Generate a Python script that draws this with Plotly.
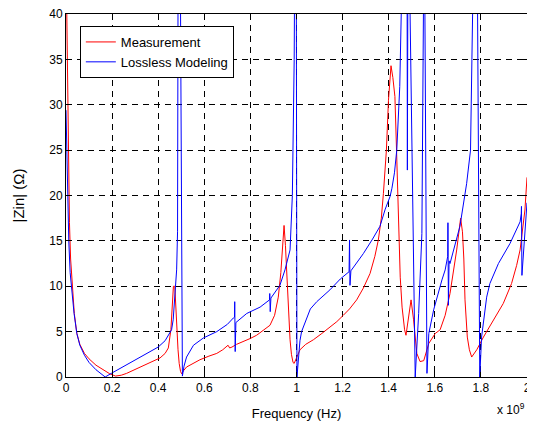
import plotly.graph_objects as go

# frequency in units of 1e9 Hz, |Zin| in ohms (values above 40 are clipped by the axis)
meas_f = [0.001, 0.006, 0.010, 0.015, 0.020, 0.027, 0.036, 0.047, 0.06, 0.08, 0.10, 0.13, 0.16, 0.19,
          0.215, 0.24, 0.263, 0.30, 0.335, 0.37, 0.408, 0.43, 0.444, 0.455, 0.462, 0.466, 0.472, 0.476,
          0.48, 0.486, 0.491, 0.497, 0.502, 0.51, 0.523, 0.55, 0.581, 0.62, 0.654, 0.68, 0.697, 0.703,
          0.71, 0.72, 0.74, 0.769, 0.80, 0.827, 0.86, 0.885, 0.905, 0.921, 0.932, 0.94, 0.946, 0.952,
          0.96, 0.966, 0.972, 0.978, 0.985, 0.99, 0.997, 1.008, 1.015, 1.04, 1.073, 1.11, 1.145, 1.175,
          1.203, 1.23, 1.261, 1.29, 1.319, 1.34, 1.355, 1.368, 1.377, 1.39, 1.399, 1.41, 1.418, 1.427,
          1.434, 1.443, 1.450, 1.458, 1.469, 1.475, 1.486, 1.497, 1.508, 1.522, 1.536, 1.552, 1.574,
          1.602, 1.623, 1.645, 1.666, 1.68, 1.695, 1.712, 1.72, 1.726, 1.731, 1.741, 1.75, 1.76, 1.782,
          1.811, 1.854, 1.897, 1.933, 1.955, 1.97, 1.991, 2.0]
meas_z = [45, 33, 24, 17, 13, 10, 7, 4.8, 3.6, 2.6, 2.0, 1.3, 0.8, 0.35,
          0.1, 0.2, 0.4, 0.85, 1.3, 1.7, 2.1, 2.6, 3.2, 5.2, 8.5, 10, 10, 7.5,
          5.2, 3.0, 1.5, 0.6, 0.35, 0.7, 1.1, 1.5, 1.9, 2.3, 2.6, 3.0, 3.3, 3.5,
          3.2, 3.3, 3.6, 3.9, 4.25, 4.6, 5.2, 5.7, 6.8, 8.8, 11.5, 14.5, 16.7, 14.5,
          10.3, 7, 4.1, 2.5, 1.6, 1.5, 1.9, 2.6, 3.0, 3.6, 4.1, 4.8, 5.5, 6.1,
          6.8, 7.5, 8.5, 9.8, 11.4, 13.3, 15.1, 17.5, 20.2, 25, 30.5, 34.3, 33, 30.9,
          25, 15.8, 11, 7.7, 5.2, 4.6, 6.3, 8.5, 6.3, 2.6, 1.7, 1.8, 3.7,
          4.8, 5.2, 6.8, 9.2, 11.5, 14, 17.5, 16, 13, 8.5, 4.4, 3.0, 2.2, 3.0,
          4.4, 6.3, 8.1, 10.3, 12.3, 14, 18.4, 22]

model_f = [0.0, 0.003, 0.007, 0.012, 0.018, 0.025, 0.035, 0.047, 0.06, 0.08, 0.10, 0.13, 0.15, 0.17,
           0.2, 0.25, 0.3, 0.35, 0.4, 0.43, 0.458, 0.465, 0.472, 0.48, 0.484, 0.487, 0.489, 0.493,
           0.505, 0.512, 0.523, 0.553, 0.596, 0.654, 0.70, 0.726, 0.731, 0.732, 0.734, 0.737, 0.76,
           0.784, 0.842, 0.883, 0.884, 0.886, 0.889, 0.928, 0.95, 0.972, 0.982, 0.99, 0.995, 0.998,
           1.002, 1.008, 1.015, 1.022, 1.044, 1.06, 1.088, 1.145, 1.19, 1.228, 1.230, 1.232, 1.236,
           1.29, 1.33, 1.362, 1.385, 1.406, 1.414, 1.425, 1.435, 1.448, 1.456, 1.468, 1.479, 1.481,
           1.483, 1.487, 1.490, 1.515, 1.530, 1.544, 1.552, 1.554, 1.556, 1.566, 1.574, 1.595, 1.631,
           1.645, 1.656, 1.657, 1.659, 1.662, 1.666, 1.709, 1.738, 1.755, 1.764, 1.772, 1.781, 1.795,
           1.803, 1.825, 1.839, 1.876, 1.926, 1.970, 1.975, 1.976, 1.978, 2.0]
model_z = [29.4, 25, 20, 15, 11.5, 9.5, 7, 4.8, 3.5, 2.4, 1.6, 0.8, 0.4, 0.0,
           0.45, 1.15, 1.85, 2.55, 3.3, 4.0, 5.2, 6.3, 8.5, 11.8, 16, 40, 80, 60,
           0.1, 1.2, 2.2, 3.5, 4.3, 5.0, 5.8, 6.5, 6.6, 8.3, 2.8, 6.0, 6.5,
           7.0, 7.7, 8.5, 9.2, 7.2, 8.7, 10.1, 11.8, 14, 20, 35, 60, 60,
           0.0, 2.0, 4.0, 5.0, 6.5, 7.5, 8.3, 9.6, 10.8, 11.6, 15.1, 10.1, 11.7,
           13.6, 15.2, 16.6, 18.5, 19.9, 20.8, 22.5, 25, 32, 42, 80, 60, 22.8,
           60, 80, 45, 0.0, 7, 15.8, 45, 80, 45, 0.4, 4.8, 7.4, 10.7,
           11.8, 13.3, 17, 7.9, 12.8, 12.5, 16.6, 21.3, 25, 40, 80, 60, 0.0,
           4.4, 8.8, 10.3, 12.5, 14.7, 17.1, 18.0, 18.8, 11.2, 19.2]

x_ticks = [0, 0.2, 0.4, 0.6, 0.8, 1.0, 1.2, 1.4, 1.6, 1.8, 2.0]
x_tick_labels = ["0", "0.2", "0.4", "0.6", "0.8", "1", "1.2", "1.4", "1.6", "1.8", "2"]
y_ticks = [0, 5, 10, 15, 20, 25, 30, 35, 40]

font = "Liberation Sans, Arial, sans-serif"

fig = go.Figure()
fig.add_trace(
    go.Scatter(x=meas_f, y=meas_z, mode="lines", name="Measurement",
               line=dict(color="#ff0000", width=1))
)
fig.add_trace(
    go.Scatter(x=model_f, y=model_z, mode="lines", name="Lossless Modeling",
               line=dict(color="#0000ff", width=1))
)

axis_common = dict(
    showline=True, linecolor="black", linewidth=1, mirror="ticks",
    ticks="inside", ticklen=5, tickcolor="black",
    showgrid=True, gridcolor="black", gridwidth=1, griddash="6px,5px",
    zeroline=False, automargin=False, ticklabeloverflow="allow",
    tickfont=dict(family=font, size=12, color="black"),
)

fig.update_xaxes(
    range=[0, 2], tickvals=x_ticks, ticktext=x_tick_labels,
    title=dict(text="Frequency (Hz)", font=dict(family=font, size=13, color="black"), standoff=14),
    **axis_common,
)
fig.update_yaxes(
    range=[0, 40], tickvals=y_ticks,
    title=dict(text="|Zin| (Ω)", font=dict(family=font, size=15, color="black"), standoff=20),
    **axis_common,
)

fig.add_annotation(
    text="x 10<sup>9</sup>", xref="paper", yref="paper", x=0.965, y=-0.06,
    xanchor="center", yanchor="top", showarrow=False,
    font=dict(family=font, size=12, color="black"),
)

# the page body adds an 8px offset, so the figure is sized to fit the window after it
fig.update_layout(
    width=527, height=422,
    margin=dict(l=58, r=8, t=6, b=53),
    paper_bgcolor="white", plot_bgcolor="white",
    showlegend=True,
    legend=dict(x=0.03, y=0.967, xanchor="left", yanchor="top",
                bgcolor="white", bordercolor="black", borderwidth=1,
                font=dict(family=font, size=13, color="black"),
                itemwidth=30, tracegroupgap=0),
)

fig.write_html("out.html")
